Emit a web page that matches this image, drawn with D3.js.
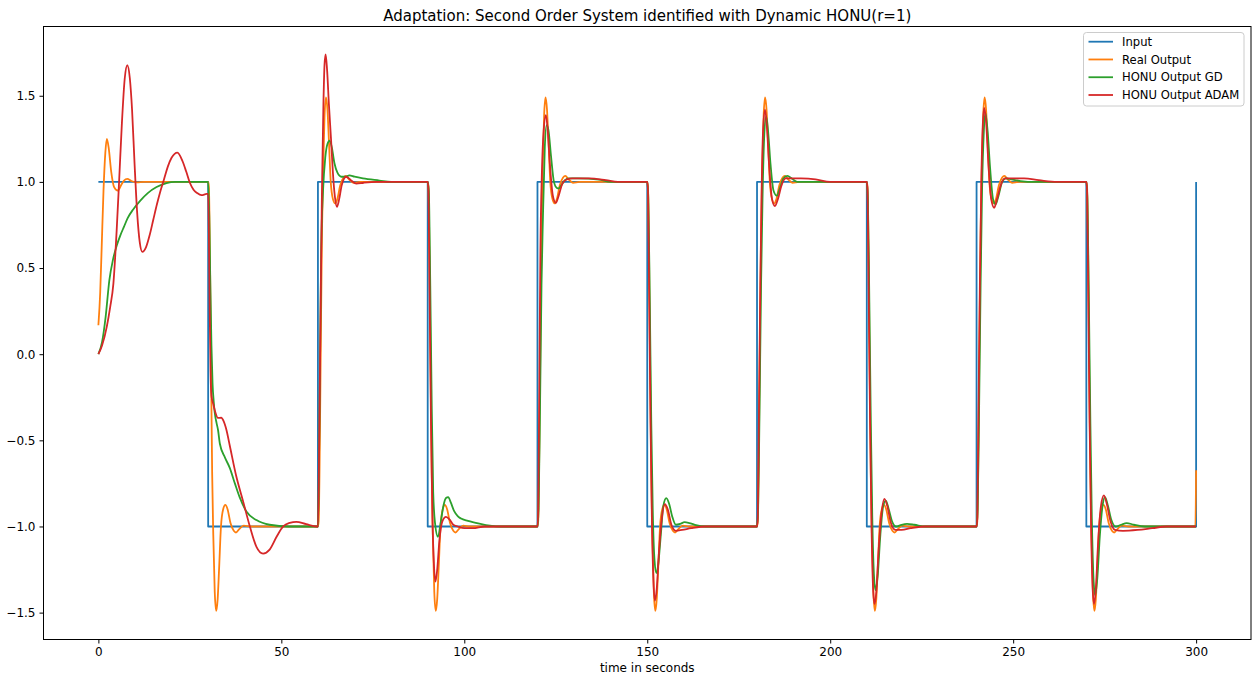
<!DOCTYPE html>
<html>
<head>
<meta charset="utf-8">
<script src="https://cdn.jsdelivr.net/npm/d3@7"></script>
<style>
  html, body { margin: 0; padding: 0; background: #fff; }
  svg { display: block; font-family: "DejaVu Sans", sans-serif; }
</style>
</head>
<body>
<svg id="chart" width="1254" height="679"></svg>
<script>
// ---- data: [time in s, value] ----
const inputSignal = [
  [0,1],[30,1],[30,-1],[60,-1],[60,1],[90,1],[90,-1],[120,-1],[120,1],[150,1],[150,-1],
  [180,-1],[180,1],[210,1],[210,-1],[240,-1],[240,1],[270,1],[270,-1],[300,-1],[300,1]
];

const realOutput = [
  [0,0.168],[0.5,0.36],[0.9,0.62],[1.4,0.95],[1.9,1.17],[2.3,1.25],[2.8,1.2],[3.5,1.06],[4.3,0.97],[5.3,0.95],[6.3,0.985],[7.0,1.008],[7.9,1.018],[9,1.005],[10.5,0.997],[12.5,1.0],
  [30,1],[30.2,0.97],[30.5,0.55],[30.8,-0.1],[31.1,-0.7],[31.4,-1.05],[31.8,-1.38],[32.2,-1.49],[32.6,-1.42],[33,-1.24],[33.5,-1],[34.1,-0.9],[34.7,-0.875],[35.3,-0.9],[36.1,-0.98],[37,-1.025],[37.6,-1.035],[38.5,-1.015],[39.7,-0.995],[41.5,-1],
  [60,-1],[60.2,-0.97],[60.5,-0.55],[60.8,0.1],[61.1,0.7],[61.4,1.05],[61.8,1.38],[62.2,1.49],[62.6,1.42],[63,1.24],[63.5,1],[64.1,0.9],[64.7,0.875],[65.3,0.9],[66.1,0.98],[67,1.025],[67.6,1.035],[68.5,1.015],[69.7,0.995],[71.5,1],
  [90,1],[90.2,0.97],[90.5,0.55],[90.8,-0.1],[91.1,-0.7],[91.4,-1.05],[91.8,-1.38],[92.2,-1.49],[92.6,-1.42],[93,-1.24],[93.5,-1],[94.1,-0.9],[94.7,-0.875],[95.3,-0.9],[96.1,-0.98],[97,-1.025],[97.6,-1.035],[98.5,-1.015],[99.7,-0.995],[101.5,-1],
  [120,-1],[120.2,-0.97],[120.5,-0.55],[120.8,0.1],[121.1,0.7],[121.4,1.05],[121.8,1.38],[122.2,1.49],[122.6,1.42],[123,1.24],[123.5,1],[124.1,0.9],[124.7,0.875],[125.3,0.9],[126.1,0.98],[127,1.025],[127.6,1.035],[128.5,1.015],[129.7,0.995],[131.5,1],
  [150,1],[150.2,0.97],[150.5,0.55],[150.8,-0.1],[151.1,-0.7],[151.4,-1.05],[151.8,-1.38],[152.2,-1.49],[152.6,-1.42],[153,-1.24],[153.5,-1],[154.1,-0.9],[154.7,-0.875],[155.3,-0.9],[156.1,-0.98],[157,-1.025],[157.6,-1.035],[158.5,-1.015],[159.7,-0.995],[161.5,-1],
  [180,-1],[180.2,-0.97],[180.5,-0.55],[180.8,0.1],[181.1,0.7],[181.4,1.05],[181.8,1.38],[182.2,1.49],[182.6,1.42],[183,1.24],[183.5,1],[184.1,0.9],[184.7,0.875],[185.3,0.9],[186.1,0.98],[187,1.025],[187.6,1.035],[188.5,1.015],[189.7,0.995],[191.5,1],
  [210,1],[210.2,0.97],[210.5,0.55],[210.8,-0.1],[211.1,-0.7],[211.4,-1.05],[211.8,-1.38],[212.2,-1.49],[212.6,-1.42],[213,-1.24],[213.5,-1],[214.1,-0.9],[214.7,-0.875],[215.3,-0.9],[216.1,-0.98],[217,-1.025],[217.6,-1.035],[218.5,-1.015],[219.7,-0.995],[221.5,-1],
  [240,-1],[240.2,-0.97],[240.5,-0.55],[240.8,0.1],[241.1,0.7],[241.4,1.05],[241.8,1.38],[242.2,1.49],[242.6,1.42],[243,1.24],[243.5,1],[244.1,0.9],[244.7,0.875],[245.3,0.9],[246.1,0.98],[247,1.025],[247.6,1.035],[248.5,1.015],[249.7,0.995],[251.5,1],
  [270,1],[270.2,0.97],[270.5,0.55],[270.8,-0.1],[271.1,-0.7],[271.4,-1.05],[271.8,-1.38],[272.2,-1.49],[272.6,-1.42],[273,-1.24],[273.5,-1],[274.1,-0.9],[274.7,-0.875],[275.3,-0.9],[276.1,-0.98],[277,-1.025],[277.6,-1.035],[278.5,-1.015],[279.7,-0.995],[281.5,-1],
  [299.8,-1],[300,-0.673]
];

const honuGD = [
  [0,0],[1,0.07],[2,0.22],[3,0.43],[4,0.55],[5,0.63],[6,0.69],[7,0.74],[8,0.79],[9.5,0.84],[11.4,0.89],[13.5,0.935],[15.9,0.97],[18.6,0.993],[21,1.0],
  [30,1],[30.3,0.8],[30.6,0.4],[30.9,0.05],[31.2,-0.17],[31.5,-0.27],[31.8,-0.34],[32.3,-0.4],[32.7,-0.44],[33.2,-0.52],[34.6,-0.6],[35.9,-0.66],[37.3,-0.75],[38.6,-0.83],[40.5,-0.915],[43.2,-0.963],[46.8,-0.99],[52,-1.0],
  [60,-1],[60.2,-0.8],[60.5,-0.2],[60.9,0.62],[61.4,0.95],[62,1.14],[62.6,1.22],[63.2,1.24],[63.8,1.2],[64.5,1.11],[65.3,1.055],[66.4,1.03],[67.5,1.03],[68.6,1.038],[70,1.03],[72.3,1.02],[76.8,1.008],[80,1.0],
  [90,1],[90.3,0.95],[90.7,0.4],[91.1,-0.3],[91.5,-0.8],[92,-0.98],[92.8,-1.06],[93.6,-0.97],[94.3,-0.88],[95,-0.835],[95.6,-0.83],[96.3,-0.86],[97.2,-0.91],[98.2,-0.94],[99.1,-0.954],[101,-0.967],[104.1,-0.983],[107,-0.995],[110,-1.0],
  [120,-1],[120.3,-0.9],[120.7,-0.3],[121.1,0.4],[121.5,0.8],[122,1.2],[122.5,1.33],[123,1.3],[123.7,1.15],[124.5,1.0],[125.3,0.965],[125.8,0.962],[126.5,0.98],[127.5,1.01],[128.6,1.02],[131,1.02],[136.8,1.013],[140,1.0],
  [150,1],[150.3,0.9],[150.7,0.3],[151.1,-0.4],[151.5,-0.9],[152,-1.2],[152.5,-1.27],[153,-1.22],[153.7,-1.05],[154.4,-0.88],[155.2,-0.836],[156,-0.87],[156.8,-0.94],[157.8,-0.99],[159,-0.985],[160.2,-0.975],[161.5,-0.98],[163,-0.99],[166,-1.0],
  [180,-1],[180.3,-0.9],[180.7,-0.3],[181.1,0.4],[181.5,0.9],[182,1.28],[182.5,1.38],[183,1.3],[183.7,1.1],[184.5,0.95],[185.4,0.92],[186.2,0.96],[187.2,1.02],[188.3,1.035],[189.5,1.02],[191,1.0],
  [210,1],[210.3,0.9],[210.7,0.3],[211.1,-0.4],[211.5,-0.95],[212,-1.3],[212.4,-1.37],[213,-1.28],[213.7,-1.05],[214.5,-0.88],[215.2,-0.85],[216,-0.9],[216.9,-0.97],[218,-1.0],[219.5,-0.99],[221,-0.985],[223,-0.99],[226,-1.0],
  [240,-1],[240.3,-0.9],[240.7,-0.3],[241.1,0.4],[241.5,0.95],[242,1.3],[242.4,1.4],[243,1.3],[243.7,1.08],[244.5,0.9],[245.2,0.87],[246,0.92],[247,1.0],[248,1.02],[249.5,1.015],[252,1.005],[256,1.0],
  [270,1],[270.3,0.9],[270.7,0.3],[271.1,-0.4],[271.5,-0.95],[272,-1.32],[272.4,-1.4],[273,-1.3],[273.7,-1.05],[274.5,-0.87],[275.1,-0.83],[275.9,-0.88],[276.8,-0.96],[278,-1.0],[279.5,-0.99],[281,-0.98],[283,-0.99],[286,-1.0],[300,-1.0]
];

const honuADAM = [
  [0,0],[1,0.05],[2.3,0.16],[3.2,0.27],[4.1,0.41],[5.0,0.72],[5.7,1.02],[6.4,1.33],[7.2,1.6],[7.9,1.677],[8.6,1.6],[9.2,1.42],[9.9,1.1],[10.6,0.82],[11.3,0.65],[12.0,0.594],[13,0.62],[14,0.69],[15,0.78],[16,0.87],[17,0.95],[18,1.02],[19,1.09],[20,1.14],[21.6,1.17],[23,1.12],[24,1.06],[25,0.995],[26,0.955],[27,0.935],[28.2,0.923],[29.6,0.93],
  [30,0.93],[30.2,0.7],[30.4,0.3],[30.65,-0.1],[30.9,-0.24],[31.4,-0.29],[31.8,-0.325],[32.7,-0.37],[33.6,-0.368],[34.1,-0.383],[35.0,-0.44],[35.9,-0.53],[37.7,-0.71],[39.5,-0.85],[41.4,-1.0],[43.2,-1.118],[45,-1.157],[46.8,-1.134],[48.7,-1.06],[50.5,-1.0],[52.3,-0.979],[54.1,-0.973],[56.8,-0.987],[59.7,-1.0],
  [60,-1],[60.3,-0.6],[60.7,0.2],[61.1,0.95],[61.5,1.45],[61.8,1.68],[62.1,1.74],[62.5,1.65],[63.0,1.45],[63.6,1.24],[64.1,1.05],[64.6,0.92],[65.2,0.855],[65.8,0.9],[66.5,0.98],[67.7,1.03],[69,1.01],[70.5,0.99],[72.5,0.995],[76,1.0],
  [90,1],[90.2,0.95],[90.5,0.4],[90.9,-0.4],[91.3,-0.95],[91.7,-1.22],[92.1,-1.32],[92.6,-1.25],[93.2,-1.08],[94,-0.97],[95,-0.944],[96,-0.96],[97,-0.99],[98.2,-1.0],[100,-1.01],[102.3,-1.01],[105.6,-1.0],
  [120,-1],[120.2,-0.9],[120.5,-0.2],[120.8,0.6],[121.2,1.05],[121.7,1.3],[122.3,1.387],[122.8,1.3],[123.4,1.1],[124.2,0.92],[125,0.878],[125.8,0.92],[126.8,0.99],[128,1.015],[129.5,1.02],[134.1,1.02],[138.7,1.01],[142,1.0],
  [150,1],[150.2,0.95],[150.5,0.4],[150.9,-0.4],[151.3,-1.0],[151.7,-1.32],[152.1,-1.43],[152.6,-1.36],[153.2,-1.15],[154,-0.95],[154.8,-0.87],[155.6,-0.9],[156.6,-0.99],[157.8,-1.025],[159.5,-1.02],[162,-1.01],[166,-1.0],
  [180,-1],[180.2,-0.95],[180.5,-0.4],[180.9,0.4],[181.3,1.0],[181.7,1.32],[182.2,1.42],[182.7,1.32],[183.3,1.1],[184.1,0.9],[184.9,0.86],[185.7,0.9],[186.7,0.98],[187.8,1.02],[189.5,1.02],[192,1.02],[196,1.015],[200,1.0],
  [210,1],[210.2,0.95],[210.5,0.4],[210.9,-0.4],[211.3,-1.0],[211.7,-1.35],[212.1,-1.45],[212.6,-1.38],[213.2,-1.15],[214,-0.93],[214.8,-0.84],[215.6,-0.88],[216.6,-0.98],[217.8,-1.02],[219.5,-1.02],[222,-1.01],[226,-1.0],
  [240,-1],[240.2,-0.95],[240.5,-0.4],[240.9,0.4],[241.3,1.0],[241.7,1.33],[242.1,1.43],[242.6,1.35],[243.2,1.12],[244,0.9],[244.8,0.85],[245.6,0.9],[246.6,0.98],[247.8,1.02],[249.5,1.02],[253,1.02],[257,1.01],[262,1.0],
  [270,1],[270.2,0.95],[270.5,0.4],[270.9,-0.4],[271.3,-1.0],[271.7,-1.35],[272.1,-1.45],[272.6,-1.36],[273.2,-1.1],[274,-0.88],[274.8,-0.82],[275.6,-0.87],[276.6,-0.97],[277.8,-1.02],[280,-1.025],[284,-1.02],[288,-1.01],[292,-1.0],[300,-1.0]
];

const seriesNames = ["Input", "Real Output", "HONU Output GD", "HONU Output ADAM"];
const seriesColors = ["#1f77b4", "#ff7f0e", "#2ca02c", "#d62728"];
const xTicks = [0, 50, 100, 150, 200, 250, 300];
const yTicks = [-1.5, -1.0, -0.5, 0.0, 0.5, 1.0, 1.5];
const xLimits = [-15, 315];
const yLimits = [-1.656, 1.902];
const titleText = "Adaptation: Second Order System identified with Dynamic HONU(r=1)";
const xLabelText = "time in seconds";

// ---- layout ----
const plot = { left: 43.5, right: 1251, top: 26.5, bottom: 639.5 };

const svg = d3.select("#chart");
const x = d3.scaleLinear().domain(xLimits).range([plot.left, plot.right]);
const y = d3.scaleLinear().domain(yLimits).range([plot.bottom, plot.top]);

svg.append("defs").append("clipPath").attr("id", "plotClip")
  .append("rect")
  .attr("x", plot.left).attr("y", plot.top)
  .attr("width", plot.right - plot.left).attr("height", plot.bottom - plot.top);

const lines = svg.append("g").attr("clip-path", "url(#plotClip)");

const stepLine = d3.line().x(d => x(d[0])).y(d => y(d[1])).curve(d3.curveLinear);
const smoothLine = d3.line().x(d => x(d[0])).y(d => y(d[1])).curve(d3.curveMonotoneX);

const allSeries = [inputSignal, realOutput, honuGD, honuADAM];
allSeries.forEach((data, i) => {
  lines.append("path")
    .datum(data)
    .attr("fill", "none")
    .attr("stroke", seriesColors[i])
    .attr("stroke-width", 1.8)
    .attr("stroke-linejoin", "round")
    .attr("stroke-linecap", "butt")
    .attr("d", i === 0 ? stepLine : smoothLine);
});

// ---- axes ----
const fmtY = d3.format(".1f");
const xAxis = svg.append("g")
  .attr("transform", `translate(0,${plot.bottom})`)
  .call(d3.axisBottom(x).tickValues(xTicks).tickSize(4).tickPadding(4).tickFormat(d3.format("d")));
const yAxis = svg.append("g")
  .attr("transform", `translate(${plot.left},0)`)
  .call(d3.axisLeft(y).tickValues(yTicks).tickSize(4).tickPadding(4).tickFormat(fmtY));

[xAxis, yAxis].forEach(g => {
  g.select(".domain").remove();
  g.selectAll(".tick line").attr("stroke", "#000").attr("stroke-width", 1);
  g.selectAll(".tick text").attr("fill", "#000").style("font-size", "12px")
    .style("font-family", "'DejaVu Sans', sans-serif");
});

// frame
svg.append("rect")
  .attr("x", plot.left).attr("y", plot.top)
  .attr("width", plot.right - plot.left).attr("height", plot.bottom - plot.top)
  .attr("fill", "none").attr("stroke", "#000").attr("stroke-width", 1);

// ---- title and axis label ----
svg.append("text")
  .attr("x", (plot.left + plot.right) / 2).attr("y", 21)
  .attr("text-anchor", "middle")
  .style("font-size", "15px")
  .attr("fill", "#000")
  .text(titleText);

svg.append("text")
  .attr("x", (plot.left + plot.right) / 2).attr("y", 672)
  .attr("text-anchor", "middle")
  .style("font-size", "12px")
  .attr("fill", "#000")
  .text(xLabelText);

// ---- legend ----
const legend = svg.append("g");
legend.append("rect")
  .attr("x", 1083.5).attr("y", 32.5)
  .attr("width", 160.5).attr("height", 73.5)
  .attr("rx", 3)
  .attr("fill", "#fff").attr("fill-opacity", 0.8)
  .attr("stroke", "#cccccc").attr("stroke-width", 1);

const legendRowY = d3.scalePoint().domain(seriesNames).range([41.7, 95]);
seriesNames.forEach((name, i) => {
  const cy = legendRowY(name);
  legend.append("line")
    .attr("x1", 1088.5).attr("x2", 1113)
    .attr("y1", cy).attr("y2", cy)
    .attr("stroke", seriesColors[i]).attr("stroke-width", 1.8);
  legend.append("text")
    .attr("x", 1122).attr("y", cy).attr("dy", "0.36em")
    .style("font-size", "11.6px")
    .attr("fill", "#000")
    .text(name);
});
</script>
</body>
</html>
